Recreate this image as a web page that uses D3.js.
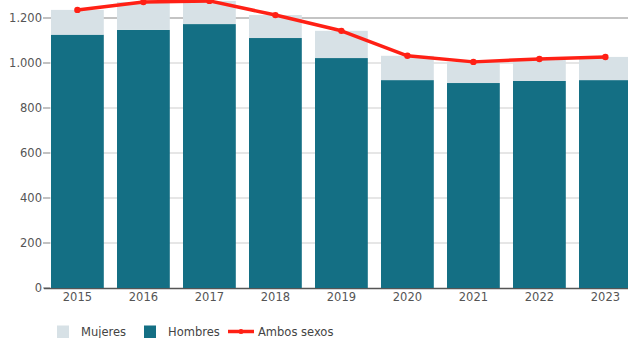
<!DOCTYPE html>
<html><head><meta charset="utf-8">
<script src="https://cdn.jsdelivr.net/npm/d3@7"></script>
<style>body{margin:0;background:#fff}svg{display:block;font-family:"DejaVu Sans",Verdana,sans-serif}</style>
</head><body>
<svg id="c" width="628" height="338"></svg>
<script>
const years = ["2015","2016","2017","2018","2019","2020","2021","2022","2023"];
const hombres = [1126,1147,1173,1111,1022,924,911,920,924];
const mujeres = [110,124,103,102,121,108,94,98,103];
const ambos = [1236,1271,1276,1213,1143,1032,1005,1018,1027];
const yTicks = [0,200,400,600,800,1000,1200];

const svg = d3.select("#c");
const x = d3.scaleBand().domain(years).range([44.4,638.4]).paddingInner(0.2).paddingOuter(0.1);
const y = d3.scaleLinear().domain([0,1200]).range([288,18]);
const fmt = v => d3.format(",")(v).replace(/,/g,".");

// gridlines
svg.append("g").selectAll("line").data(yTicks.filter(d=>d>0)).join("line")
  .attr("x1",50).attr("x2",628).attr("y1",d=>y(d)).attr("y2",d=>y(d))
  .attr("stroke",d=>d===1200?"#c4c4c4":"#dedede").attr("stroke-width",d=>d===1200?2:1.5);
// ticks
svg.append("g").selectAll("line").data(yTicks).join("line")
  .attr("x1",43).attr("x2",50).attr("y1",d=>y(d)).attr("y2",d=>y(d))
  .attr("stroke","#999").attr("stroke-width",1.2);
svg.append("g").selectAll("text").data(yTicks).join("text")
  .attr("x",42).attr("y",d=>y(d)+4).attr("text-anchor","end")
  .attr("font-size",11.5).attr("fill","#555").text(fmt);
// baseline
svg.append("line").attr("x1",44).attr("x2",628).attr("y1",288.5).attr("y2",288.5)
  .attr("stroke","#555").attr("stroke-width",1.5);

// bars
const g = svg.append("g");
g.selectAll("rect.h").data(years).join("rect").attr("class","h")
  .attr("x",d=>x(d)).attr("width",x.bandwidth())
  .attr("y",(d,i)=>y(hombres[i])).attr("height",(d,i)=>y(0)-y(hombres[i]))
  .attr("fill","#146f84");
g.selectAll("rect.m").data(years).join("rect").attr("class","m")
  .attr("x",d=>x(d)).attr("width",x.bandwidth())
  .attr("y",(d,i)=>y(hombres[i]+mujeres[i])).attr("height",(d,i)=>y(hombres[i])-y(hombres[i]+mujeres[i]))
  .attr("fill","#d7e1e6");

// x labels
svg.append("g").selectAll("text").data(years).join("text")
  .attr("x",d=>x(d)+x.bandwidth()/2).attr("y",301).attr("text-anchor","middle")
  .attr("font-size",11.5).attr("fill","#555").text(d=>d);

// line
const line = d3.line().x((d,i)=>x(years[i])+x.bandwidth()/2).y(d=>y(d));
svg.append("path").datum(ambos).attr("d",line).attr("fill","none")
  .attr("stroke","#ff2015").attr("stroke-width",3.5).attr("stroke-linejoin","round");
svg.append("g").selectAll("circle").data(ambos).join("circle")
  .attr("cx",(d,i)=>x(years[i])+x.bandwidth()/2).attr("cy",d=>y(d)).attr("r",3.2)
  .attr("fill","#ff2015");

// legend
const leg = svg.append("g").attr("font-size",11.5).attr("fill","#444");
const items = [
  {name:"Mujeres", type:"rect", color:"#d7e1e6", x:57, tx:81},
  {name:"Hombres", type:"rect", color:"#146f84", x:144, tx:168},
  {name:"Ambos sexos", type:"line", color:"#ff2015", x:228, tx:258}
];
items.forEach(it=>{
  if(it.type==="rect"){
    leg.append("rect").attr("x",it.x).attr("y",325.5).attr("width",12).attr("height",13).attr("fill",it.color);
  } else {
    leg.append("line").attr("x1",it.x).attr("x2",it.x+26).attr("y1",331.5).attr("y2",331.5)
      .attr("stroke",it.color).attr("stroke-width",3.5);
    leg.append("circle").attr("cx",it.x+13).attr("cy",331.5).attr("r",2.5).attr("fill",it.color);
  }
  leg.append("text").attr("x",it.tx).attr("y",335.5).attr("fill","#444").text(it.name);
});
</script>
</body></html>
